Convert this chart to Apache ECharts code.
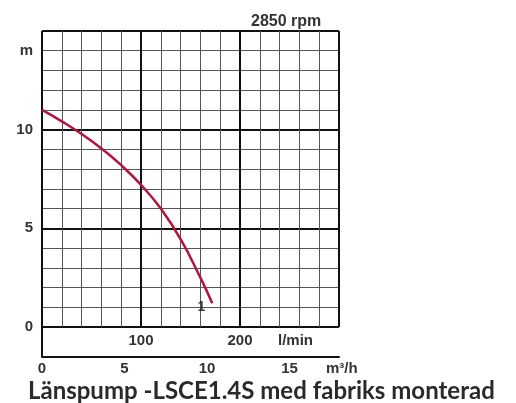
<!DOCTYPE html>
<html>
<head>
<meta charset="utf-8">
<script src="https://cdn.jsdelivr.net/npm/echarts@6/dist/echarts.min.js"></script>
<style>
html,body{margin:0;padding:0;background:#fff;}
#chart{width:516px;height:403px;}
</style>
</head>
<body>
<div id="chart"></div>
<script>
// Flow (l/min) and head (m)
var flowLpm = [0, 20, 40, 60, 80, 100, 120, 140, 160, 172];
var headM   = [11.0, 10.42, 9.78, 9.05, 8.2, 7.2, 6.0, 4.45, 2.5, 1.2];
var curveName = '1';
var curveLabelAt = [161, 1.0];
var yTickLabels = {0: '0', 5: '5', 10: '10', 14: 'm'};
var lpmTickLabels = {100: '100', 200: '200', 250: 'l/min'};
var m3hTickLabels = {0: '0', 5: '5', 10: '10', 15: '15'};
var rpmText = '2850 rpm';
var titleText = 'Länspump -LSCE1.4S med fabriks monterad';

var curveData = flowLpm.map(function (q, i) { return [q, headM[i]]; });

var chart = echarts.init(document.getElementById('chart'), null, {renderer: 'canvas'});
var labelFont = {color: '#333', fontSize: 15, fontWeight: 'bold', fontFamily: 'Liberation Sans, Arial, sans-serif'};
var thin = {color: '#555', width: 1};
var thick = {color: '#111', width: 2};

chart.setOption({
  animation: false,
  backgroundColor: '#fff',
  title: [
    {text: rpmText, left: 246, top: 9,
     textStyle: {color: '#333', fontSize: 16, fontWeight: 'bold', fontFamily: 'Liberation Sans, Arial, sans-serif'}},
    {text: titleText, left: 23, top: 374,
     textStyle: {color: '#2a2a2a', fontSize: 24, fontWeight: 'bold', fontFamily: 'Lato, sans-serif'}}
  ],
  grid: [
    {left: 42, top: 31, width: 297, height: 296},
    {left: 42, top: 327, width: 297, height: 29.5}
  ],
  xAxis: [
    {gridIndex: 0, type: 'value', min: 0, max: 300, interval: 20,
     axisLine: {show: false}, axisTick: {show: false}, axisLabel: {show: false},
     splitLine: {show: true, lineStyle: thin}},
    {gridIndex: 0, type: 'value', min: 0, max: 300, interval: 100,
     axisLine: {show: false}, axisTick: {show: false}, axisLabel: {show: false},
     splitLine: {show: true, lineStyle: thick}},
    {gridIndex: 0, type: 'value', min: 0, max: 300, interval: 50, position: 'bottom',
     axisLine: {show: false}, axisTick: {show: false}, splitLine: {show: false},
     axisLabel: Object.assign({margin: 6, showMinLabel: true, showMaxLabel: true,
       formatter: function (v) {
         var t = lpmTickLabels[v];
         if (!t) return '';
         return v === 250 ? '{u|' + t + '}' : t;
       },
       rich: {u: Object.assign({padding: [0, 0, 0, 12]}, labelFont)}
     }, labelFont)},
    {gridIndex: 1, type: 'value', min: 0, max: 18, interval: 5, position: 'bottom',
     axisLine: {show: true, onZero: false, lineStyle: thick}, axisTick: {show: false},
     splitLine: {show: false},
     axisLabel: Object.assign({margin: 5, formatter: function (v) { return m3hTickLabels[v] || ''; }}, labelFont),
     name: 'm³/h', nameLocation: 'end', nameGap: -13,
     nameTextStyle: Object.assign({verticalAlign: 'top', align: 'left', padding: [5, 0, 0, 0]}, labelFont)}
  ],
  yAxis: [
    {gridIndex: 0, type: 'value', min: 0, max: 15, interval: 1,
     axisLine: {show: false}, axisTick: {show: false},
     axisLabel: Object.assign({margin: 9, formatter: function (v) { return yTickLabels[v] || ''; }}, labelFont),
     splitLine: {show: true, lineStyle: thin}},
    {gridIndex: 0, type: 'value', min: 0, max: 15, interval: 5, position: 'left',
     axisLine: {show: false}, axisTick: {show: false}, axisLabel: {show: false},
     splitLine: {show: true, lineStyle: thick}},
    {gridIndex: 1, type: 'value', min: 0, max: 1, position: 'left',
     axisLine: {show: true, onZero: false, lineStyle: thick}, axisTick: {show: false},
     axisLabel: {show: false}, splitLine: {show: false}}
  ],
  series: [
    {type: 'line', xAxisIndex: 0, yAxisIndex: 0, data: curveData, smooth: 0.5,
     showSymbol: false, symbol: 'none',
     lineStyle: {color: '#b3143d', width: 2.5}, z: 5},
    {type: 'scatter', xAxisIndex: 0, yAxisIndex: 0, data: [curveLabelAt], symbolSize: 0,
     label: {show: true, position: 'inside', formatter: curveName,
       color: '#111', fontSize: 14, fontWeight: 'bold', fontFamily: 'Liberation Sans, Arial, sans-serif'}, z: 6}
  ]
});
</script>
</body>
</html>
